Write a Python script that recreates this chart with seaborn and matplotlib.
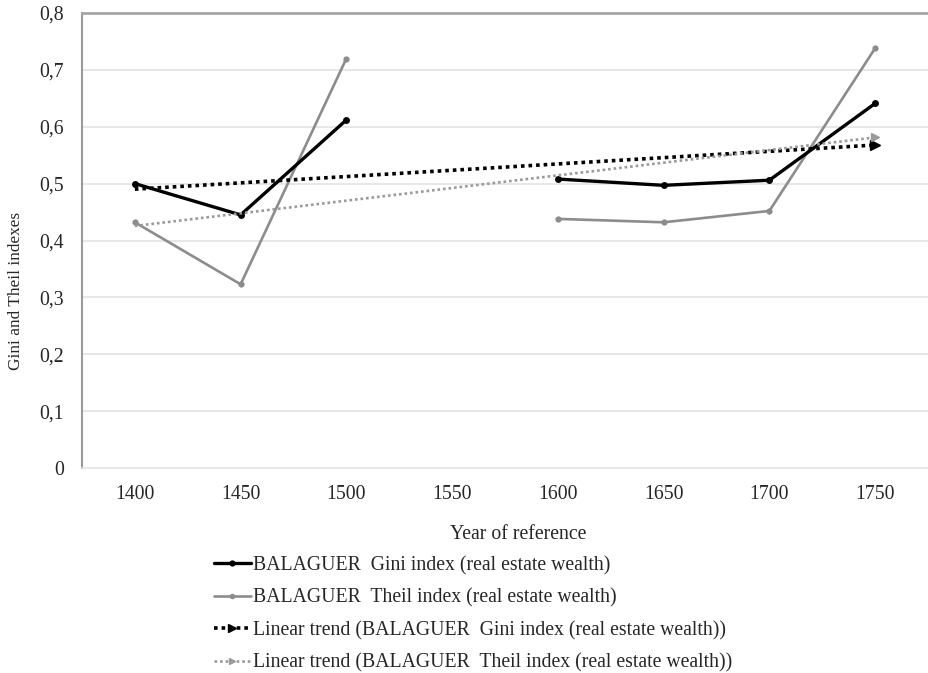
import numpy as np
import pandas as pd
import matplotlib
matplotlib.use('Agg')
import matplotlib.pyplot as plt
import seaborn as sns
from matplotlib.lines import Line2D
from matplotlib.legend_handler import HandlerLine2D

# Дані з графіка
years = ['1400', '1450', '1500', '1550', '1600', '1650', '1700', '1750']
gini = [0.500, 0.445, 0.612, np.nan, 0.508, 0.497, 0.506, 0.641]
theil = [0.432, 0.323, 0.720, np.nan, 0.438, 0.432, 0.452, 0.738]
y_ticks = [0, 0.1, 0.2, 0.3, 0.4, 0.5, 0.6, 0.7, 0.8]

labels = ['BALAGUER  Gini index (real estate wealth)',
          'BALAGUER  Theil index (real estate wealth)',
          'Linear trend (BALAGUER  Gini index (real estate wealth))',
          'Linear trend (BALAGUER  Theil index (real estate wealth))']

sns.set_style('white')
plt.rcParams['font.family'] = ['Liberation Serif', 'DejaVu Serif']
fs = 14.2
plt.rcParams['font.size'] = fs
text_color = '#262626'

pos = np.arange(len(years))
rows = []
for name, vals in [('gini', gini), ('theil', theil)]:
    seg = 0
    for p, v in zip(pos, vals):
        if np.isnan(v):
            seg += 1
            continue
        rows.append({'series': name, 'pos': p, 'value': v, 'seg': seg})
df = pd.DataFrame(rows)

fig = plt.figure(figsize=(9.29, 6.73), dpi=100)
ax = fig.add_axes([82 / 929, 1 - 468 / 673, 846 / 929, 455 / 673])

for t in y_ticks[1:]:
    ax.axhline(t, color='#e3e3e3', lw=1.2, zorder=0)

sns.lineplot(data=df[df.series == 'gini'], x='pos', y='value', units='seg', estimator=None,
             color='black', lw=2.4, marker='o', markersize=5, markeredgewidth=0, ax=ax, zorder=4)
sns.lineplot(data=df[df.series == 'theil'], x='pos', y='value', units='seg', estimator=None,
             color='#8c8c8c', lw=1.9, marker='o', markersize=4.5, markeredgewidth=0, ax=ax, zorder=3)

# Лінійні тренди
trend_x = np.array([pos[0], pos[-1]])
for name, col, lw, ms in [('gini', 'black', 2.6, 7), ('theil', '#9a9a9a', 1.9, 6)]:
    sub = df[df.series == name]
    k, b = np.polyfit(sub.pos + 1, sub.value, 1)
    ax.plot(trend_x, k * (trend_x + 1) + b, color=col, lw=lw, linestyle=(0, (1, 1.1)),
            marker='>', markevery=[1], markersize=ms, zorder=5)

ax.set_xlim(-0.5, len(years) - 0.5)
ax.set_ylim(0, 0.8)
ax.set_xticks(pos)
ax.set_xticklabels(years)
ax.set_yticks(y_ticks)
ax.set_yticklabels([f'{t:g}'.replace('.', ',') for t in y_ticks])
ax.tick_params(axis='both', length=0, colors=text_color, labelsize=fs)
ax.tick_params(axis='x', pad=12)
ax.tick_params(axis='y', pad=13)
ax.set_xlabel('Year of reference', color=text_color, fontsize=fs, labelpad=9)
ax.xaxis.set_label_coords(0.515, -0.125)
ax.set_ylabel('Gini and Theil indexes', color=text_color, fontsize=12.4)
ax.yaxis.set_label_coords(-0.069, 0.39)

ax.spines['right'].set_visible(False)
ax.spines['top'].set_color('#a6a6a6')
ax.spines['top'].set_linewidth(2)
ax.spines['left'].set_color('#9a9a9a')
ax.spines['left'].set_linewidth(1.5)
ax.spines['bottom'].set_color('#e3e3e3')
ax.spines['bottom'].set_linewidth(1.2)


class ArrowEnd(HandlerLine2D):
    def get_xdata(self, legend, xdescent, ydescent, width, height, fontsize):
        xdata, _ = super().get_xdata(legend, xdescent, ydescent, width, height, fontsize)
        return xdata, [xdata[-1]]


h1 = Line2D([], [], color='black', lw=2.4, marker='o', markersize=4.5, markeredgewidth=0)
h2 = Line2D([], [], color='#8c8c8c', lw=1.9, marker='o', markersize=4, markeredgewidth=0)
h3 = Line2D([], [], color='black', lw=2.6, linestyle=(0, (1, 1.1)), marker='>', markersize=6)
h4 = Line2D([], [], color='#9a9a9a', lw=1.9, linestyle=(0, (1, 1.1)), marker='>', markersize=5)
fig.legend([h1, h2, h3, h4], labels, loc='upper left', bbox_to_anchor=(196 / 929, 1 - 538 / 673),
           frameon=False, handlelength=1.9, handletextpad=0.1, labelspacing=0.68, numpoints=1,
           fontsize=fs, labelcolor=text_color,
           handler_map={h3: ArrowEnd(), h4: ArrowEnd()})

fig.savefig('out.png', dpi=100)
